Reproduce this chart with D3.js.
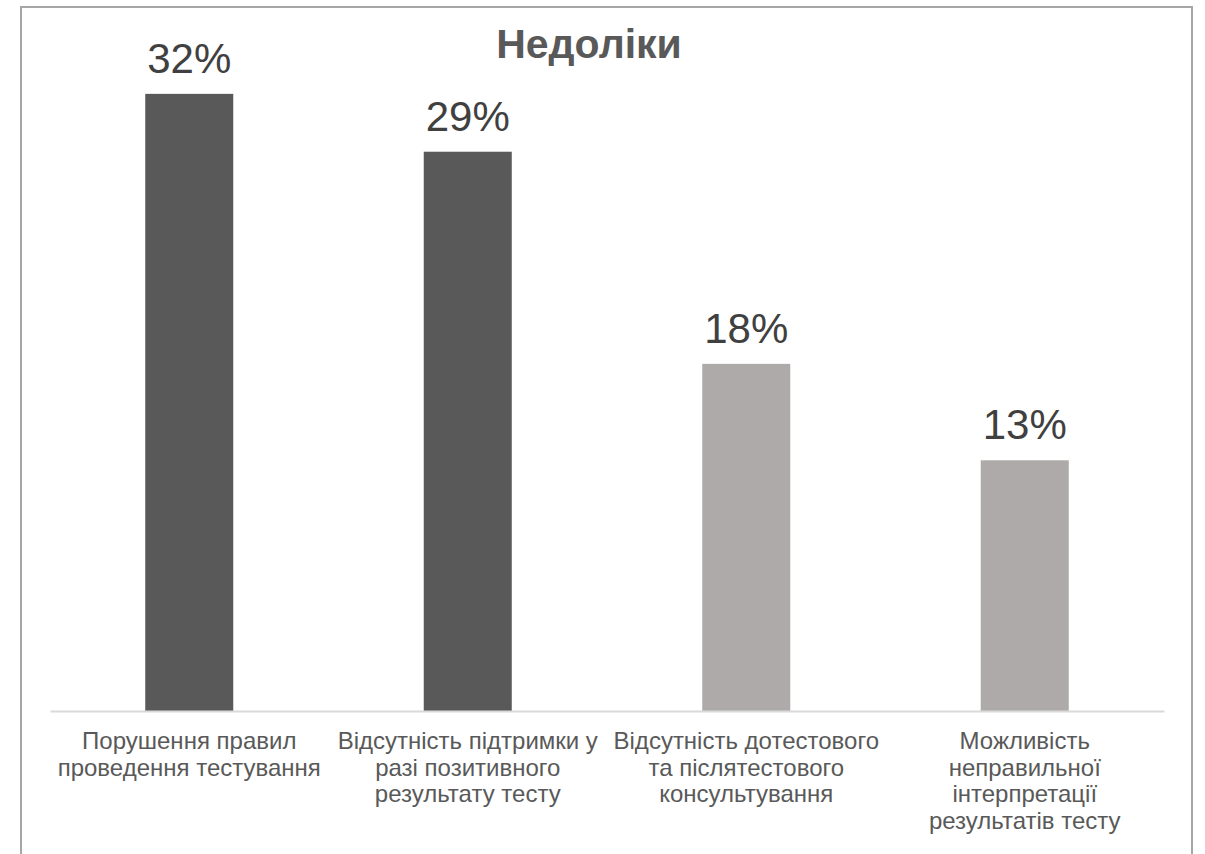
<!DOCTYPE html>
<html>
<head>
<meta charset="utf-8">
<script src="https://cdn.jsdelivr.net/npm/d3@7"></script>
<style>
  html, body { margin: 0; padding: 0; background: #fff; }
  svg { display: block; }
  text { font-family: "Liberation Sans", Arial, sans-serif; }
</style>
</head>
<body>
<svg id="chart" width="1205" height="854"></svg>
<script>
// Chart data
const title = "Недоліки";
const categories = [
  "Порушення правил\nпроведення тестування",
  "Відсутність підтримки у\nразі позитивного\nрезультату тесту",
  "Відсутність дотестового\nта післятестового\nконсультування",
  "Можливість\nнеправильної\nінтерпретації\nрезультатів тесту"
];
const values = [32, 29, 18, 13];
const barColors = ["#595959", "#595959", "#aeaaaa", "#aeaaaa"];

const svg = d3.select("#chart");
const W = 1205, H = 854;

// Outer frame
svg.append("rect")
  .attr("x", 21).attr("y", 7)
  .attr("width", 1171).attr("height", H)
  .attr("fill", "#fff")
  .attr("stroke", "#a6a6a6")
  .attr("stroke-width", 2);

const plot = { left: 50, right: 1164, top: 36, bottom: 711 };

const x = d3.scaleBand()
  .domain(d3.range(categories.length))
  .range([plot.left, plot.right])
  .paddingInner(0.684)
  .paddingOuter(0.342);

const y = d3.scaleLinear()
  .domain([0, 35])
  .range([plot.bottom, plot.top]);

// Title
svg.append("text")
  .attr("x", 589).attr("y", 58)
  .attr("text-anchor", "middle")
  .attr("font-size", 41)
  .attr("font-weight", "bold")
  .attr("fill", "#595959")
  .text(title);

// Bars
svg.append("g").selectAll("rect")
  .data(values)
  .join("rect")
  .attr("x", (d, i) => x(i))
  .attr("y", d => y(d))
  .attr("width", x.bandwidth())
  .attr("height", d => y(0) - y(d))
  .attr("fill", (d, i) => barColors[i]);

// Value labels
svg.append("g").selectAll("text")
  .data(values)
  .join("text")
  .attr("x", (d, i) => x(i) + x.bandwidth() / 2)
  .attr("y", d => y(d) - 21)
  .attr("text-anchor", "middle")
  .attr("font-size", 42)
  .attr("fill", "#404040")
  .text(d => d + "%");

// Category axis
const axis = d3.axisBottom(x).tickSize(0).tickFormat("");
const gx = svg.append("g")
  .attr("transform", `translate(0,${plot.bottom})`)
  .call(axis);
gx.select(".domain").attr("stroke", "#d9d9d9").attr("stroke-width", 2);

// Multi-line category labels
const lh = 26.7;
gx.selectAll(".tick").each(function(d) {
  const t = d3.select(this).append("text")
    .attr("text-anchor", "middle")
    .attr("font-size", 24)
    .attr("fill", "#595959")
    .attr("y", 38);
  categories[d].split("\n").forEach((line, k) => {
    t.append("tspan")
      .attr("x", 0)
      .attr("dy", k === 0 ? 0 : lh)
      .text(line);
  });
});
</script>
</body>
</html>
